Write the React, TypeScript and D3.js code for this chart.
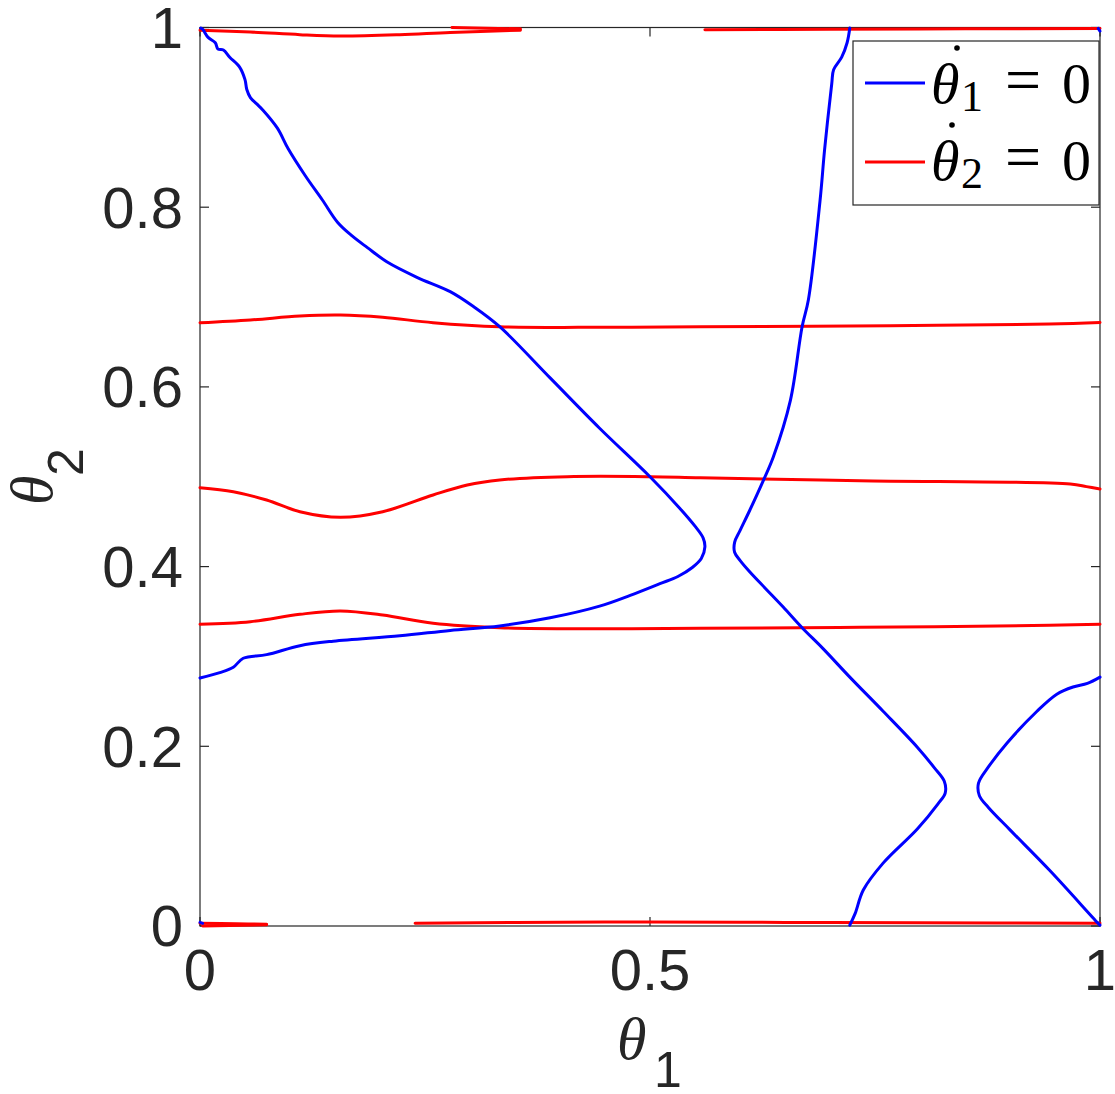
import React from "react";
import * as d3 from "d3";

// ---- Data (θ1, θ2) ----
// θ̇1 = 0 nullcline branches (blue)
const blueUpperLeft: [number, number][] = [
  [0.001, 0.9994], [0.003, 0.998], [0.009, 0.989], [0.017, 0.983], [0.02, 0.976],
  [0.026, 0.975], [0.033, 0.967], [0.044, 0.956], [0.05, 0.942], [0.052, 0.931],
  [0.056, 0.922], [0.063, 0.915], [0.07, 0.908], [0.086, 0.888], [0.098, 0.865],
  [0.117, 0.835], [0.136, 0.808], [0.153, 0.783], [0.169, 0.768], [0.186, 0.755],
  [0.208, 0.739], [0.241, 0.722], [0.278, 0.706], [0.303, 0.69], [0.333, 0.667],
  [0.389, 0.610], [0.444, 0.554], [0.5, 0.5], [0.533, 0.465], [0.55, 0.445],
  [0.559, 0.432], [0.561, 0.422], [0.557, 0.409], [0.547, 0.399], [0.531, 0.389],
  [0.511, 0.381], [0.478, 0.368], [0.444, 0.356], [0.389, 0.343], [0.333, 0.334],
  [0.278, 0.329], [0.222, 0.323], [0.148, 0.317], [0.111, 0.312], [0.074, 0.302],
  [0.048, 0.298], [0.037, 0.288], [0.022, 0.282], [0.0, 0.276],
];
const blueMiddle: [number, number][] = [
  [0.722, 0.9994], [0.719, 0.983], [0.713, 0.967], [0.704, 0.953], [0.702, 0.938],
  [0.694, 0.864], [0.689, 0.808], [0.676, 0.697], [0.669, 0.667], [0.656, 0.585],
  [0.637, 0.522], [0.626, 0.496], [0.611, 0.463], [0.6, 0.44], [0.594, 0.427],
  [0.594, 0.416], [0.6, 0.407], [0.611, 0.394], [0.628, 0.376], [0.648, 0.355],
  [0.669, 0.332], [0.692, 0.309], [0.722, 0.277], [0.759, 0.239], [0.797, 0.199],
  [0.816, 0.176], [0.827, 0.161], [0.828, 0.148], [0.82, 0.136], [0.797, 0.108],
  [0.759, 0.07], [0.737, 0.04], [0.728, 0.014], [0.722, 0.001],
];
const blueRight: [number, number][] = [
  [1.0, 0.277], [0.986, 0.27], [0.97, 0.266], [0.952, 0.258], [0.93, 0.239],
  [0.897, 0.204], [0.876, 0.177], [0.865, 0.159], [0.866, 0.145], [0.876, 0.132],
  [0.9, 0.107], [0.944, 0.062], [0.997, 0.004], [1.0, 0.001],
];
const blueCornerTR: [number, number][] = [[0.998, 0.999], [1.0, 0.996]];
const blueCornerBL: [number, number][] = [[0.0, 0.004], [0.003, 0.003]];

// θ̇2 = 0 nullcline branches (red)
const redTopLeft: [number, number][] = [
  [0.0, 0.997], [0.056, 0.995], [0.111, 0.992], [0.156, 0.9905], [0.222, 0.992],
  [0.278, 0.9945], [0.356, 0.997],
];
const redTopLeftEdge: [number, number][] = [[0.28, 1.0], [0.356, 0.9985]];
const redTopRight: [number, number][] = [
  [0.561, 0.9975], [0.7, 0.998], [0.85, 0.9985], [1.0, 0.999],
];
const redHigh: [number, number][] = [
  [0.0, 0.6714], [0.056, 0.6745], [0.111, 0.6789], [0.156, 0.68], [0.203, 0.6775],
  [0.259, 0.6715], [0.333, 0.667], [0.444, 0.6663], [0.556, 0.667], [0.767, 0.6681],
  [0.944, 0.67], [1.0, 0.6717],
];
const redMid: [number, number][] = [
  [0.0, 0.4878], [0.037, 0.4834], [0.074, 0.4741], [0.111, 0.4611], [0.156, 0.4549],
  [0.203, 0.4611], [0.259, 0.4797], [0.297, 0.4908], [0.333, 0.4964], [0.408, 0.5001],
  [0.5, 0.5001], [0.556, 0.4989], [0.733, 0.4956], [0.967, 0.4919], [0.985, 0.489],
  [1.0, 0.4864],
];
const redLow: [number, number][] = [
  [0.0, 0.3358], [0.056, 0.3387], [0.111, 0.3469], [0.156, 0.3506], [0.203, 0.3461],
  [0.259, 0.3369], [0.333, 0.332], [0.444, 0.3309], [0.556, 0.3313], [0.733, 0.3324],
  [0.944, 0.3347], [1.0, 0.3358],
];
const redBottomLeft: [number, number][] = [[0.0, 0.003], [0.04, 0.0025], [0.074, 0.002]];
const redBottomLeftEdge: [number, number][] = [[0.003, 0.0], [0.074, 0.0015]];
const redBottomRight: [number, number][] = [
  [0.239, 0.003], [0.35, 0.004], [0.5, 0.0045], [0.65, 0.004], [0.8, 0.0035], [1.0, 0.003],
];

const blueSeries = [blueUpperLeft, blueMiddle, blueRight, blueCornerTR, blueCornerBL];
const redSeries = [
  redTopLeft, redTopLeftEdge, redTopRight, redHigh, redMid, redLow,
  redBottomLeft, redBottomLeftEdge, redBottomRight,
];

const xTicks = [0, 0.5, 1];
const xTickLabels = ["0", "0.5", "1"];
const yTicks = [0, 0.2, 0.4, 0.6, 0.8, 1];
const yTickLabels = ["0", "0.2", "0.4", "0.6", "0.8", "1"];

const BLUE = "#0000ff";
const RED = "#ff0000";
const AX = "#262626";

export default function App() {
  const W = 1115, H = 1094;
  const left = 200, top = 27.5, right = 1100, bottom = 926;
  const x = d3.scaleLinear().domain([0, 1]).range([left, right]);
  const y = d3.scaleLinear().domain([0, 1]).range([bottom, top]);
  const line = d3
    .line<[number, number]>()
    .x((d) => x(d[0]))
    .y((d) => y(d[1]))
    .curve(d3.curveCatmullRom.alpha(0.5));

  const tickLen = 9;
  const sans = "'Liberation Sans', Arial, Helvetica, sans-serif";
  const serif = "'Liberation Serif', 'Times New Roman', serif";
  const fs = 58;
  const lw = 3;

  // legend geometry
  const lgX = 853, lgY = 41, lgW = 246, lgH = 164;
  const rows = [
    { color: BLUE, sub: "1", lineY: 42, base: 62 },
    { color: RED, sub: "2", lineY: 121, base: 139 },
  ];

  return (
    <svg
      width={W}
      height={H}
      style={{ position: "absolute", left: 0, top: 0, display: "block", background: "#fff" }}
    >
      <rect x={0} y={0} width={W} height={H} fill="#fff" />
      {/* axes box */}
      <rect x={left} y={top} width={right - left} height={bottom - top} fill="none" stroke={AX} strokeWidth={1.2} />
      {xTicks.map((t, i) => (
        <g key={"xt" + i}>
          <line x1={x(t)} x2={x(t)} y1={bottom} y2={bottom - tickLen} stroke={AX} strokeWidth={1.2} />
          <line x1={x(t)} x2={x(t)} y1={top} y2={top + tickLen} stroke={AX} strokeWidth={1.2} />
          <text x={x(t)} y={bottom + 64} textAnchor="middle" fontFamily={sans} fontSize={fs} fill={AX}>
            {xTickLabels[i]}
          </text>
        </g>
      ))}
      {yTicks.map((t, i) => (
        <g key={"yt" + i}>
          <line x1={left} x2={left + tickLen} y1={y(t)} y2={y(t)} stroke={AX} strokeWidth={1.2} />
          <line x1={right} x2={right - tickLen} y1={y(t)} y2={y(t)} stroke={AX} strokeWidth={1.2} />
          <text x={left - 17} y={y(t)} dy="0.35em" textAnchor="end" fontFamily={sans} fontSize={fs} fill={AX}>
            {yTickLabels[i]}
          </text>
        </g>
      ))}

      {/* x label θ1 */}
      <text x={617} y={bottom + 133} fontFamily={serif} fontStyle="italic" fontSize={60} fill={AX}>
        θ
      </text>
      <text x={654} y={bottom + 161} fontFamily={sans} fontSize={50} fill={AX}>
        1
      </text>
      {/* y label θ2 */}
      <g transform={`translate(52, 505) rotate(-90)`}>
        <text x={0} y={0} fontFamily={serif} fontStyle="italic" fontSize={60} fill={AX}>
          θ
        </text>
      </g>
      <g transform={`translate(83, 476) rotate(-90)`}>
        <text x={0} y={0} fontFamily={sans} fontSize={50} fill={AX}>
          2
        </text>
      </g>

      {/* curves */}
      {redSeries.map((s, i) => (
        <path key={"r" + i} d={line(s) || ""} fill="none" stroke={RED} strokeWidth={lw} strokeLinejoin="round" strokeLinecap="round" />
      ))}
      {blueSeries.map((s, i) => (
        <path key={"b" + i} d={line(s) || ""} fill="none" stroke={BLUE} strokeWidth={lw} strokeLinejoin="round" strokeLinecap="round" />
      ))}

      {/* legend */}
      <g transform={`translate(${lgX}, ${lgY})`}>
        <rect x={0} y={0} width={lgW} height={lgH} fill="#fff" stroke={AX} strokeWidth={1.2} />
        {rows.map((r, i) => (
          <g key={"lg" + i}>
            <line x1={12} x2={72} y1={r.lineY} y2={r.lineY} stroke={r.color} strokeWidth={lw} />
            <text x={78} y={r.base} fontFamily={serif} fontStyle="italic" fontSize={58} fill="#000">
              θ
            </text>
            <circle cx={i === 0 ? 104 : 99} cy={r.base - 55} r={2.8} fill="#000" />
            <text x={108} y={r.base + 8} fontFamily={serif} fontSize={44} fill="#000">
              {r.sub}
            </text>
            <text x={170} y={r.base - 2} textAnchor="middle" fontFamily={serif} fontSize={64} fill="#000">
              =
            </text>
            <text x={209} y={r.base} fontFamily={serif} fontSize={58} fill="#000">
              0
            </text>
          </g>
        ))}
      </g>
    </svg>
  );
}
